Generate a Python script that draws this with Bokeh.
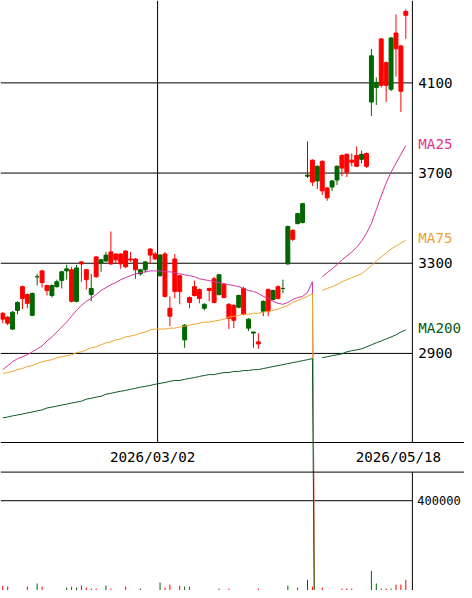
import numpy as np
from bokeh.plotting import figure
from bokeh.models import Range1d, Span
from bokeh.core.properties import value
from bokeh.embed import file_html
from bokeh.resources import INLINE

# ---------------- data ----------------
open_ = [3052, 3034, 3083, 3126, 3144, 3122, 3166, 3240, 3214, 3179,
         3201, 3218, 3262, 3275, 3131, 3279, 3297, 3227, 3188, 3240,
         3315, 3336, 3297, 3315, 3297, 3284, 3315, 3271, 3271, 3306,
         3336, 3319, 3336, 3153, 3065, 3175, 3175, 3025, 3126, 3157,
         3144, 3118, 3179, 3126, 3249, 3148, 3056, 3047, 3157, 3074,
         3052, 2995, 2942, 3131, 3087, 3179, 3144, 3188, 3463, 3406,
         3520, 3564, 3691, 3660, 3730, 3621, 3590, 3665, 3730, 3722,
         3704, 3748, 3730, 3783, 3730, 4220, 4102, 4089, 4089, 4299,
         4251, 4063, 4400]
close = [3078, 3061, 3008, 3091, 3196, 3161, 3069, 3240, 3266, 3201,
         3157, 3196, 3223, 3266, 3271, 3131, 3306, 3271, 3161, 3328,
         3301, 3310, 3350, 3341, 3341, 3354, 3319, 3319, 3253, 3271,
         3363, 3341, 3245, 3341, 3100, 3319, 3245, 2960, 3148, 3196,
         3183, 3100, 3188, 3231, 3161, 3205, 3118, 3113, 3105, 3188,
         3012, 2990, 2951, 3087, 3183, 3139, 3196, 3188, 3297, 3446,
         3476, 3481, 3686, 3757, 3665, 3752, 3634, 3638, 3669, 3778,
         3783, 3757, 3778, 3761, 3787, 4015, 4080, 4295, 4190, 4072,
         4321, 4264, 4417]
high = [3083, 3065, 3087, 3131, 3201, 3166, 3170, 3253, 3271, 3205,
        3205, 3227, 3266, 3293, 3284, 3293, 3310, 3275, 3253, 3332,
        3319, 3350, 3441, 3345, 3345, 3358, 3350, 3323, 3275, 3310,
        3367, 3350, 3341, 3350, 3153, 3341, 3249, 3030, 3153, 3223,
        3188, 3122, 3192, 3240, 3253, 3210, 3122, 3118, 3161, 3196,
        3056, 2995, 2990, 3135, 3188, 3183, 3201, 3227, 3467, 3450,
        3524, 3568, 3840, 3761, 3734, 3757, 3638, 3669, 3734, 3783,
        3787, 3787, 3818, 3800, 3791, 4251, 4124, 4299, 4195, 4304,
        4404, 4268, 4426]
low = [3034, 3025, 3004, 3074, 3096, 3100, 3065, 3201, 3192, 3157,
       3148, 3192, 3188, 3227, 3126, 3126, 3218, 3183, 3131, 3236,
       3262, 3306, 3293, 3297, 3275, 3279, 3306, 3231, 3245, 3258,
       3297, 3315, 3240, 3148, 3021, 3144, 3118, 2925, 3100, 3153,
       3122, 3091, 3131, 3122, 3157, 3144, 3008, 3012, 3100, 3069,
       2999, 2925, 2920, 3065, 3065, 3135, 3139, 3166, 3293, 3398,
       3472, 3476, 3678, 3643, 3630, 3603, 3577, 3621, 3647, 3686,
       3682, 3730, 3726, 3743, 3722, 3953, 4002, 4080, 4015, 4063,
       4128, 3971, 4295]
volume = [66000, 62000, 38000, 30000, 41000, 62000, 35000, 74000, 62000, 28000,
          33000, 25000, 40000, 58000, 62000, 58000, 66000, 58000, 54000, 54000,
          36000, 66000, 54000, 31000, 42000, 62000, 27000, 39000, 54000, 33000,
          44000, 29000, 78000, 58000, 70000, 45000, 66000, 62000, 62000, 41000,
          36000, 24000, 38000, 44000, 54000, 40000, 54000, 43000, 30000, 39000,
          26000, 37000, 54000, 35000, 44000, 28000, 32000, 41000, 66000, 45000,
          58000, 42000, 89000, 62000, 40000, 58000, 37000, 30000, 43000, 54000,
          54000, 54000, 35000, 29000, 41000, 124000, 74000, 54000, 54000, 54000,
          70000, 70000, 89000]
ma25 = [2828, 2846, 2863, 2877, 2885, 2894, 2907, 2920, 2933, 2955,
        2973, 2995, 3017, 3039, 3065, 3091, 3113, 3131, 3144, 3161,
        3179, 3192, 3205, 3214, 3227, 3236, 3245, 3253, 3258, 3262,
        3266, 3266, 3266, 3262, 3262, 3258, 3253, 3249, 3245, 3240,
        3231, 3227, 3223, 3218, 3214, 3210, 3205, 3201, 3196, 3188,
        3179, 3175, 3166, 3153, 3144, 3131, 3122, 3118, 3126, 3139,
        3148, 3153, 3170, 3218, 0, 3240, 3258, 3275, 3293, 3315,
        3332, 3350, 3371, 3398, 3433, 3476, 3538, 3599, 3656, 3704,
        3743, 3783, 3822]
ma75 = [2811, 2815, 2820, 2828, 2833, 2842, 2846, 2855, 2863, 2868,
        2872, 2881, 2885, 2890, 2894, 2903, 2907, 2916, 2925, 2929,
        2938, 2947, 2951, 2960, 2964, 2973, 2977, 2982, 2990, 2995,
        3004, 3008, 3008, 3008, 3012, 3012, 3017, 3021, 3025, 3030,
        3034, 3039, 3039, 3043, 3047, 3052, 3061, 3065, 3069, 3074,
        3074, 3078, 3078, 3083, 3087, 3091, 3096, 3105, 3113, 3126,
        3135, 3144, 3153, 3166, 0, 3179, 3188, 3196, 3205, 3218,
        3227, 3236, 3245, 3253, 3271, 3288, 3310, 3328, 3345, 3363,
        3376, 3389, 3402]
ma200 = [2614, 2618, 2623, 2627, 2631, 2636, 2640, 2645, 2649, 2658,
         2662, 2666, 2671, 2675, 2680, 2684, 2688, 2697, 2701, 2706,
         2710, 2719, 2723, 2728, 2732, 2736, 2741, 2745, 2750, 2754,
         2758, 2763, 2767, 2771, 2776, 2780, 2780, 2785, 2789, 2793,
         2798, 2802, 2806, 2806, 2811, 2815, 2815, 2820, 2820, 2824,
         2824, 2828, 2828, 2833, 2837, 2842, 2846, 2850, 2855, 2859,
         2863, 2868, 2872, 2877, 0, 2881, 2885, 2890, 2894, 2898,
         2907, 2912, 2916, 2920, 2929, 2938, 2947, 2955, 2964, 2973,
         2982, 2995, 3004]
price_ticks = [2900, 3300, 3700, 4100]
volume_ticks = [400000]
date_tick_index = [32, 82]
date_tick_labels = ["2026/03/02", "2026/05/18"]
ma_names = ["MA25", "MA75", "MA200"]

# ---------------- styles / layout ----------------
UP, DOWN = "#ff0000", "#006600"
MA_LINE = ["#d0379b", "#f2a531", "#0d5a22"]
MA_TEXT = ["#e0378e", "#f0a030", "#0a5a14"]
FONT = value("DejaVu Sans Mono")
FS = "14.2px"

W, H = 464, 590                 # canvas; the layout below is in 472x598 design px
SLOT = 5.0                      # design px per bar slot
X_OFF = 2.3                     # design px of bar 0 centre
def xd(px):                     # design px -> x data
    return (px - X_OFF) / SLOT
PXY = 0.2285                    # design px per yen
def pd_(py):                    # design px -> price
    return 4100 - (py - 83.5) / PXY
V0 = 610.0
def vd(py):                     # design px -> volume
    return (V0 - py) * 400000 / (V0 - 507)

n = len(open_)
x = np.arange(n)
o = np.array(open_, float); c = np.array(close, float)
colors = [UP if c[i] > o[i] else DOWN for i in range(n)]

p = figure(width=W, height=H, output_backend="svg", toolbar_location=None,
           x_range=Range1d(xd(0), xd(472)), y_range=Range1d(pd_(598), pd_(0)),
           x_axis_location=None, y_axis_location=None, min_border=0,
           outline_line_color=None, background_fill_color="white",
           border_fill_color="white")
p.extra_y_ranges = {"vol": Range1d(vd(598), vd(0))}
p.grid.visible = False

# grid / frame lines
xr = xd(419)
p.segment(x0=[xd(0)] * len(price_ticks), y0=price_ticks, x1=[xr] * len(price_ticks),
          y1=price_ticks, line_color="black", line_width=1)
p.segment(x0=[xd(0)], y0=volume_ticks, x1=[xr], y1=volume_ticks,
          y_range_name="vol", line_color="black", line_width=1)
p.segment(x0=[xr, xr], y0=[pd_(0), pd_(478)], x1=[xr, xr], y1=[pd_(448), pd_(598)],
          line_color="black", line_width=1)
for py in (448, 478):
    p.add_layout(Span(location=pd_(py), dimension="width", line_color="black", line_width=1))
gx = [i - 0.5 for i in date_tick_index[:-1]]
p.segment(x0=gx, y0=[pd_(448)] * len(gx), x1=gx, y1=[pd_(0)] * len(gx),
          line_color="black", line_width=1)

# volume
p.segment(x0=x, y0=[0] * n, x1=x, y1=volume, y_range_name="vol", line_color=colors, line_width=1)

# candles
p.segment(x0=x, y0=low, x1=x, y1=high, line_color=colors, line_width=1)
p.vbar(x=x, width=0.8, top=np.maximum(o, c), bottom=np.minimum(o, c),
       fill_color=colors, line_color=colors, line_width=1)

# moving averages (series break after the zero value)
for ma, col in zip([ma25, ma75, ma200], MA_LINE):
    arr = np.array(ma, float)
    k = int(np.where(arr == 0)[0][0])
    p.line(x[:k + 1], arr[:k + 1], line_color=col, line_width=1)
    p.line(x[k + 1:], arr[k + 1:], line_color=col, line_width=1)

# texts
lx = xd(425)
p.text(x=[lx] * len(price_ticks), y=price_ticks, text=[str(t) for t in price_ticks],
       text_font=FONT, text_font_size=FS, text_baseline="middle", text_align="left",
       text_color="black")
p.text(x=[xd(424)], y=volume_ticks, text=[str(t) for t in volume_ticks], y_range_name="vol",
       text_font=FONT, text_font_size="12px", text_baseline="middle", text_align="left",
       text_color="black")
p.text(x=[lx] * 3, y=[ma25[-1], ma75[-1], ma200[-1]], text=ma_names, y_offset=-2,
       text_font=FONT, text_font_size=FS, text_baseline="middle", text_align="left",
       text_color=MA_TEXT)
p.text(x=[i - 1.5 for i in date_tick_index], y=[pd_(463)] * len(date_tick_index),
       text=date_tick_labels, text_font=FONT, text_font_size=FS,
       text_baseline="middle", text_align="center", text_color="black")

open("out.html", "w").write(file_html(p, INLINE))
